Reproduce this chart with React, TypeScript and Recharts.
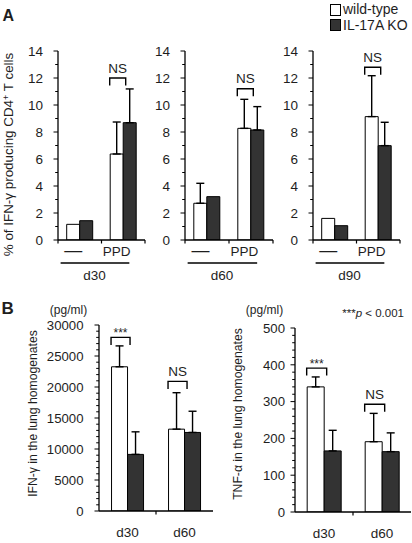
import React from "react";
import { BarChart, Bar, XAxis, YAxis, ErrorBar, LabelList, Legend } from "recharts";

const FONT = "'Liberation Sans', Arial, Helvetica, sans-serif";
const INK = "#1e1e1e";
const WT_FILL = "#ffffff";
const KO_FILL = "#333333";

// ---------- Panel A : % of IFN-γ producing CD4+ T cells ----------
const catsA = ["—", "PPD"];
const ticksA = [0, 1, 2, 3, 4, 5, 6, 7, 8, 9, 10, 11, 12, 13, 14];

const d30Wt = [1.16, 6.37];
const d30WtUpper = [null, 8.74];
const d30Ko = [1.43, 8.69];
const d30KoUpper = [null, 11.19];
const d30Sig = [null, "NS"];
const d30Bracket = [null, 12.0];

const d60Wt = [2.72, 8.27];
const d60WtUpper = [4.2, 10.42];
const d60Ko = [3.21, 8.15];
const d60KoUpper = [null, 9.88];
const d60Sig = [null, "NS"];
const d60Bracket = [null, 11.2];

const d90Wt = [1.6, 9.14];
const d90WtUpper = [null, 12.17];
const d90Ko = [1.06, 6.99];
const d90KoUpper = [null, 8.72];
const d90Sig = [null, "NS"];
const d90Bracket = [null, 12.8];

// ---------- Panel B : lung homogenates ----------
const catsB = ["d30", "d60"];

const ifnWt = [23260, 13200];
const ifnWtUpper = [26630, 19080];
const ifnKo = [9130, 12670];
const ifnKoUpper = [12770, 16090];
const ifnSig = ["***", "NS"];
const ifnBracket = [28000, 20900];
const ticksIfn = Array.from({ length: 31 }, (_, i) => i * 1000);

const tnfWt = [340, 191];
const tnfWtUpper = [367, 268];
const tnfKo = [166, 164];
const tnfKoUpper = [222, 215];
const tnfSig = ["***", "NS"];
const tnfBracket = [391, 293];
const ticksTnf = Array.from({ length: 26 }, (_, i) => i * 20);

const seriesNames = ["wild-type", "IL-17A KO"];

type Row = {
  cat: string;
  wt: number;
  ko: number;
  wtE?: number[];
  koE?: number[];
  sig: string | null;
  br: number | null;
};

function buildRows(
  cats: string[],
  wt: number[],
  wtUp: (number | null)[],
  ko: number[],
  koUp: (number | null)[],
  sig: (string | null)[],
  br: (number | null)[]
): Row[] {
  return cats.map((c, i) => ({
    cat: c,
    wt: wt[i],
    ko: ko[i],
    wtE: wtUp[i] != null ? [0, (wtUp[i] as number) - wt[i]] : undefined,
    koE: koUp[i] != null ? [0, (koUp[i] as number) - ko[i]] : undefined,
    sig: sig[i],
    br: br[i],
  }));
}

const rowsD30 = buildRows(catsA, d30Wt, d30WtUpper, d30Ko, d30KoUpper, d30Sig, d30Bracket);
const rowsD60 = buildRows(catsA, d60Wt, d60WtUpper, d60Ko, d60KoUpper, d60Sig, d60Bracket);
const rowsD90 = buildRows(catsA, d90Wt, d90WtUpper, d90Ko, d90KoUpper, d90Sig, d90Bracket);
const rowsIfn = buildRows(catsB, ifnWt, ifnWtUpper, ifnKo, ifnKoUpper, ifnSig, ifnBracket);
const rowsTnf = buildRows(catsB, tnfWt, tnfWtUpper, tnfKo, tnfKoUpper, tnfSig, tnfBracket);

const axisLine = { stroke: "#000", strokeWidth: 1.3 };

const makeYTick = (majorEvery: number, gap: number, fs: number) => (props: any) => {
  const { x, y, payload } = props;
  const v = payload.value;
  const major = Math.abs(v % majorEvery) < 1e-9;
  return (
    <g>
      <line x1={x} x2={x - (major ? 4.5 : 2.8)} y1={y} y2={y} stroke="#000" strokeWidth={1} />
      {major && (
        <text x={x - gap} y={y} dy="0.36em" textAnchor="end" fontSize={fs} fill={INK} fontFamily={FONT}>
          {v}
        </text>
      )}
    </g>
  );
};

const makeXTick =
  (mode: "A" | "B", n: number, band: number, labelDy: number, dx: number, fs: number) => (props: any) => {
    const { x, y, payload, index } = props;
    const off = typeof payload?.offset === "number" && payload.offset > 0 ? payload.offset : band / 2;
    const marks: number[] = [];
    if (mode === "A") {
      marks.push(x - off);
      if (index === n - 1) marks.push(x + off);
    } else if (index < n - 1) {
      marks.push(x + off);
    }
    const isDash = payload.value === "—";
    return (
      <g>
        {marks.map((mx, i) => (
          <line key={i} x1={mx} x2={mx} y1={y} y2={y + 3.5} stroke="#000" strokeWidth={1.2} />
        ))}
        <text
          x={x + dx}
          y={y + labelDy}
          textAnchor="middle"
          fontSize={isDash ? 18 : fs}
          fill={INK}
          fontFamily={FONT}
        >
          {payload.value}
        </text>
      </g>
    );
  };

const groupLabel = (name: string) => (props: any) => {
  const vb = props.viewBox || {};
  const x0 = vb.x ?? 0;
  const w = vb.width ?? 0;
  const y0 = vb.y ?? 0;
  return (
    <g>
      <line x1={x0 + 0.03 * w} x2={x0 + 0.82 * w} y1={y0 + 23} y2={y0 + 23} stroke="#000" strokeWidth={1.3} />
      <text x={x0 + 0.42 * w} y={y0 + 40} textAnchor="middle" fontSize={13.5} fill={INK} fontFamily={FONT}>
        {name}
      </text>
    </g>
  );
};

const yTitleA = (props: any) => {
  const vb = props.viewBox || {};
  const cx = (vb.x ?? 0) + 8.5;
  const cy = (vb.y ?? 0) + (vb.height ?? 0) / 2 + 9;
  return (
    <text
      x={cx}
      y={cy}
      dy="0.35em"
      transform={`rotate(-90, ${cx}, ${cy})`}
      textAnchor="middle"
      fontSize={13.4}
      fill={INK}
      fontFamily={FONT}
    >
      <tspan>% of IFN-γ producing CD4</tspan>
      <tspan dy={-4.5} fontSize={9}>
        +
      </tspan>
      <tspan dy={4.5}> T cells</tspan>
    </text>
  );
};

const yTitleB = (title: string, dxTitle: number, dyTitle: number, dxUnit: number, dyUnit: number) => (props: any) => {
  const vb = props.viewBox || {};
  const cx = (vb.x ?? 0) + dxTitle;
  const cy = (vb.y ?? 0) + (vb.height ?? 0) / 2 + dyTitle;
  return (
    <g>
      <text
        x={cx}
        y={cy}
        dy="0.35em"
        transform={`rotate(-90, ${cx}, ${cy})`}
        textAnchor="middle"
        fontSize={12.2}
        fill={INK}
        fontFamily={FONT}
      >
        {title}
      </text>
      <text x={(vb.x ?? 0) + dxUnit} y={(vb.y ?? 0) + dyUnit} textAnchor="middle" fontSize={12} fill={INK} fontFamily={FONT}>
        (pg/ml)
      </text>
    </g>
  );
};

const makeBracket = (rows: Row[]) => (props: any) => {
  const { index } = props;
  const vb = props.viewBox && typeof props.viewBox.x === "number" ? props.viewBox : props;
  const row = rows[index];
  if (!row || row.br == null || row.sig == null) return null;
  const { x, y, width, height } = vb;
  if (!(height > 0)) return null;
  const base = y + height;
  const ppu = height / row.wt;
  const by = base - row.br * ppu;
  const x1 = x - 0.5;
  const x2 = x + width + 2.5;
  const isNS = row.sig === "NS";
  return (
    <g>
      <path
        d={`M${x1},${by + 7.5} L${x1},${by} L${x2},${by} L${x2},${by + 7.5}`}
        fill="none"
        stroke="#000"
        strokeWidth={1.4}
      />
      <text
        x={(x1 + x2) / 2}
        y={isNS ? by - 5.5 : by - 0.5}
        textAnchor="middle"
        fontSize={isNS ? 13.5 : 12}
        fill={INK}
        fontFamily={FONT}
      >
        {row.sig}
      </text>
    </g>
  );
};

const renderLegend = (props: any) => {
  const payload = [...(props.payload || [])].sort(
    (a: any, b: any) => seriesNames.indexOf(a.value) - seriesNames.indexOf(b.value)
  );
  return (
    <div style={{ fontFamily: FONT, fontSize: 14, color: INK, lineHeight: "15.5px" }}>
      {payload.map((e: any, i: number) => (
        <div key={i} style={{ display: "flex", alignItems: "center", height: 15.5, whiteSpace: "nowrap" }}>
          <span
            style={{
              display: "inline-block",
              width: 11,
              height: 12,
              boxSizing: "border-box",
              border: "1.3px solid #000",
              background: e.color,
              marginRight: 2,
            }}
          />
          {e.value}
        </div>
      ))}
    </div>
  );
};

function PanelA({
  rows,
  group,
  left,
  width,
  yw,
  title,
  legend,
}: {
  rows: Row[];
  group: string;
  left: number;
  width: number;
  yw: number;
  title?: boolean;
  legend?: boolean;
}) {
  const band = (width - yw - 5) / rows.length;
  return (
    <div style={{ position: "absolute", left, top: 0 }}>
      <BarChart
        width={width}
        height={290}
        data={rows}
        margin={{ top: 51, right: 5, left: 0, bottom: 0 }}
        barGap={0}
        barCategoryGap="20%"
      >
        <XAxis
          dataKey="cat"
          tickLine={false}
          tickSize={0}
          tickMargin={0}
          axisLine={axisLine}
          interval={0}
          height={50}
          tick={makeXTick("A", rows.length, band, 15.5, -6.5, 13.5)}
          label={groupLabel(group)}
        />
        <YAxis
          domain={[0, 14]}
          ticks={ticksA}
          interval={0}
          tickLine={false}
          tickSize={0}
          tickMargin={0}
          axisLine={axisLine}
          width={yw}
          tick={makeYTick(2, 15, 13.5)}
          label={title ? yTitleA : undefined}
          allowDataOverflow
        />
        {legend && (
          <Legend
            layout="vertical"
            align="center"
            verticalAlign="middle"
            wrapperStyle={{ left: 55, top: 2, width: 90, height: 32 }}
            content={renderLegend}
          />
        )}
        <Bar dataKey="wt" name={seriesNames[0]} fill={WT_FILL} stroke="#000" strokeWidth={1} isAnimationActive={false}>
          <ErrorBar dataKey="wtE" direction="y" width={4} stroke="#000" strokeWidth={1.4} />
          <LabelList dataKey="br" content={makeBracket(rows)} />
        </Bar>
        <Bar dataKey="ko" name={seriesNames[1]} fill={KO_FILL} stroke="#000" strokeWidth={1} isAnimationActive={false}>
          <ErrorBar dataKey="koE" direction="y" width={4} stroke="#000" strokeWidth={1.4} />
        </Bar>
      </BarChart>
    </div>
  );
}

function PanelB({
  rows,
  left,
  width,
  yw,
  right,
  top,
  xh,
  domainMax,
  ticks,
  majorEvery,
  gap,
  title,
  titleDx,
  titleDy,
  unitDx,
  unitDy,
  catGap,
}: any) {
  const band = (width - yw - right) / rows.length;
  return (
    <div style={{ position: "absolute", left, top: 300 }}>
      <BarChart
        width={width}
        height={243}
        data={rows}
        margin={{ top, right, left: 0, bottom: 0 }}
        barGap={0}
        barCategoryGap={catGap}
      >
        <XAxis
          dataKey="cat"
          tickLine={false}
          tickSize={0}
          tickMargin={0}
          axisLine={axisLine}
          interval={0}
          height={xh}
          tick={makeXTick("B", rows.length, band, 26, 0, 13.5)}
        />
        <YAxis
          domain={[0, domainMax]}
          ticks={ticks}
          interval={0}
          tickLine={false}
          tickSize={0}
          tickMargin={0}
          axisLine={axisLine}
          width={yw}
          tick={makeYTick(majorEvery, gap, 13.2)}
          label={yTitleB(title, titleDx, titleDy, unitDx, unitDy)}
          allowDataOverflow
        />
        <Bar dataKey="wt" name={seriesNames[0]} fill={WT_FILL} stroke="#000" strokeWidth={1} isAnimationActive={false}>
          <ErrorBar dataKey="wtE" direction="y" width={4} stroke="#000" strokeWidth={1.4} />
          <LabelList dataKey="br" content={makeBracket(rows)} />
        </Bar>
        <Bar dataKey="ko" name={seriesNames[1]} fill={KO_FILL} stroke="#000" strokeWidth={1} isAnimationActive={false}>
          <ErrorBar dataKey="koE" direction="y" width={4} stroke="#000" strokeWidth={1.4} />
        </Bar>
      </BarChart>
    </div>
  );
}

export default function App() {
  return (
    <div
      style={{
        position: "absolute",
        left: 0,
        top: 0,
        width: 412,
        height: 543,
        background: "#fff",
        fontFamily: FONT,
        overflow: "hidden",
      }}
    >
      <PanelA rows={rowsD30} group="d30" left={0} width={150} yw={58} title />
      <PanelA rows={rowsD60} group="d60" left={147} width={131} yw={38} />
      <PanelA rows={rowsD90} group="d90" left={275} width={130} yw={38} legend />

      <PanelB
        rows={rowsIfn}
        left={0}
        width={220}
        yw={99}
        right={7}
        top={25}
        xh={32}
        domainMax={30000}
        ticks={ticksIfn}
        majorEvery={5000}
        gap={15.5}
        title="IFN-γ in the lung homogenates"
        titleDx={32.5}
        titleDy={-4.5}
        unitDx={68.5}
        unitDy={-11}
        catGap="22%"
      />
      <PanelB
        rows={rowsTnf}
        left={206}
        width={206}
        yw={89}
        right={1}
        top={28}
        xh={31}
        domainMax={500}
        ticks={ticksTnf}
        majorEvery={100}
        gap={10}
        title="TNF-α in the lung homogenates"
        titleDx={32}
        titleDy={-6}
        unitDx={58.5}
        unitDy={-14}
        catGap="21%"
      />

      <svg width={412} height={543} style={{ position: "absolute", left: 0, top: 0, pointerEvents: "none" }}>
        <text x={2.5} y={20.5} fontSize={16} fontWeight="bold" fill={INK} fontFamily={FONT}>
          A
        </text>
        <text x={1.5} y={314} fontSize={17} fontWeight="bold" fill={INK} fontFamily={FONT}>
          B
        </text>
        <text x={404} y={317} textAnchor="end" fontSize={11.5} fill={INK} fontFamily={FONT}>
          ***
          <tspan fontStyle="italic">p</tspan> &lt; 0.001
        </text>
      </svg>
    </div>
  );
}
